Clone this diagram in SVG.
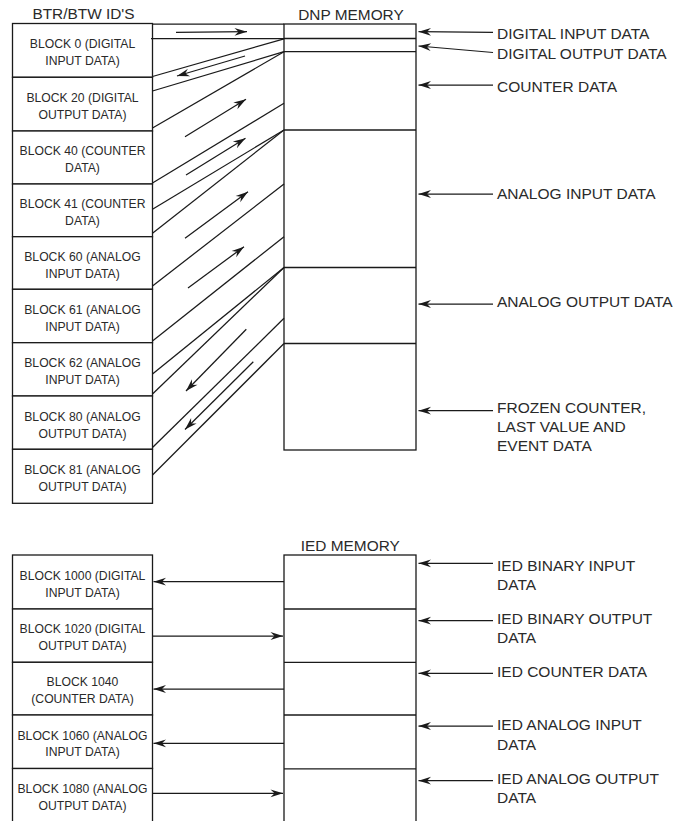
<svg xmlns="http://www.w3.org/2000/svg" width="678" height="821" viewBox="0 0 678 821">
<style>
  .box { fill: #fff; stroke: #1a1a1a; stroke-width: 1.3; }
  .div { stroke: #1a1a1a; stroke-width: 1.3; fill: none; }
  .ln { stroke: #1a1a1a; stroke-width: 1.25; fill: none; }
  .arr { stroke: #1a1a1a; stroke-width: 1.25; fill: none; marker-end: url(#ah); }
  .hdr { font-family: "Liberation Sans", Arial, sans-serif; font-size: 15.4px; fill: #2a2a2a; text-anchor: middle; }
  .blk { font-family: "Liberation Sans", Arial, sans-serif; font-size: 12.2px; fill: #2a2a2a; text-anchor: middle; }
  .lbl { font-family: "Liberation Sans", Arial, sans-serif; font-size: 15.5px; fill: #2a2a2a; }
</style>
<defs>
  <marker id="ah" viewBox="-13 -5 14 10" refX="0" refY="0" markerWidth="14" markerHeight="10" orient="auto" markerUnits="userSpaceOnUse">
    <path d="M0,0 L-12.5,-3.9 L-8.5,0 L-12.5,3.9 Z" fill="#1a1a1a"/>
  </marker>
</defs>
<rect width="678" height="821" fill="#fff"/>

<!-- headers -->
<text class="hdr" x="83.5" y="19.3">BTR/BTW ID'S</text>
<text class="hdr" x="351" y="19.5">DNP MEMORY</text>
<text class="hdr" x="350.3" y="550.7">IED MEMORY</text>

<!-- left blocks (upper) -->
<g id="block0"><rect class="box" x="12.5" y="23.5" width="140" height="53.8"/><text class="blk" x="82.5" y="48"><tspan>BLOCK 0 (DIGITAL</tspan><tspan x="82.5" y="65.4">INPUT DATA)</tspan></text></g>
<g id="block20"><rect class="box" x="12.5" y="77.3" width="140" height="53.7"/><text class="blk" x="82.5" y="101.7"><tspan>BLOCK 20 (DIGITAL</tspan><tspan x="82.5" y="119">OUTPUT DATA)</tspan></text></g>
<g id="block40"><rect class="box" x="12.5" y="131" width="140" height="53"/><text class="blk" x="82.5" y="154.5"><tspan>BLOCK 40 (COUNTER</tspan><tspan x="82.5" y="171.5">DATA)</tspan></text></g>
<g id="block41"><rect class="box" x="12.5" y="184" width="140" height="52.7"/><text class="blk" x="82.5" y="207.5"><tspan>BLOCK 41 (COUNTER</tspan><tspan x="82.5" y="224.5">DATA)</tspan></text></g>
<g id="block60"><rect class="box" x="12.5" y="236.7" width="140" height="52.6"/><text class="blk" x="82.5" y="260.7"><tspan>BLOCK 60 (ANALOG</tspan><tspan x="82.5" y="277.5">INPUT DATA)</tspan></text></g>
<g id="block61"><rect class="box" x="12.5" y="289.3" width="140" height="53.4"/><text class="blk" x="82.5" y="314"><tspan>BLOCK 61 (ANALOG</tspan><tspan x="82.5" y="330.8">INPUT DATA)</tspan></text></g>
<g id="block62"><rect class="box" x="12.5" y="342.7" width="140" height="53.3"/><text class="blk" x="82.5" y="367.3"><tspan>BLOCK 62 (ANALOG</tspan><tspan x="82.5" y="383.6">INPUT DATA)</tspan></text></g>
<g id="block80"><rect class="box" x="12.5" y="396" width="140" height="53.3"/><text class="blk" x="82.5" y="420.6"><tspan>BLOCK 80 (ANALOG</tspan><tspan x="82.5" y="437.5">OUTPUT DATA)</tspan></text></g>
<g id="block81"><rect class="box" x="12.5" y="449.3" width="140" height="54"/><text class="blk" x="82.5" y="474"><tspan>BLOCK 81 (ANALOG</tspan><tspan x="82.5" y="491">OUTPUT DATA)</tspan></text></g>

<!-- DNP memory -->
<g id="dnp-memory">
  <rect class="box" x="284" y="24" width="132" height="426"/>
  <line class="div" x1="284" y1="38.5" x2="416" y2="38.5"/>
  <line class="div" x1="284" y1="51.7" x2="416" y2="51.7"/>
  <line class="div" x1="284" y1="130" x2="416" y2="130"/>
  <line class="div" x1="284" y1="267.5" x2="416" y2="267.5"/>
  <line class="div" x1="284" y1="343.5" x2="416" y2="343.5"/>
</g>

<!-- IED blocks -->
<g id="block1000"><rect class="box" x="12.5" y="555" width="140" height="54"/><text class="blk" x="82.5" y="579.5"><tspan>BLOCK 1000 (DIGITAL</tspan><tspan x="82.5" y="596.8">INPUT DATA)</tspan></text></g>
<g id="block1020"><rect class="box" x="12.5" y="609" width="140" height="53.3"/><text class="blk" x="82.5" y="633.3"><tspan>BLOCK 1020 (DIGITAL</tspan><tspan x="82.5" y="649.5">OUTPUT DATA)</tspan></text></g>
<g id="block1040"><rect class="box" x="12.5" y="662.3" width="140" height="52.7"/><text class="blk" x="82.5" y="686"><tspan>BLOCK 1040</tspan><tspan x="82.5" y="702.6">(COUNTER DATA)</tspan></text></g>
<g id="block1060"><rect class="box" x="12.5" y="715" width="140" height="53.5"/><text class="blk" x="82.5" y="740"><tspan>BLOCK 1060 (ANALOG</tspan><tspan x="82.5" y="756.3">INPUT DATA)</tspan></text></g>
<g id="block1080"><rect class="box" x="12.5" y="768.5" width="140" height="60"/><text class="blk" x="82.5" y="793.3"><tspan>BLOCK 1080 (ANALOG</tspan><tspan x="82.5" y="809.5">OUTPUT DATA)</tspan></text></g>

<!-- IED memory -->
<g id="ied-memory">
  <rect class="box" x="284" y="555" width="132" height="280"/>
  <line class="div" x1="284" y1="609" x2="416" y2="609"/>
  <line class="div" x1="284" y1="662.3" x2="416" y2="662.3"/>
  <line class="div" x1="284" y1="715" x2="416" y2="715"/>
  <line class="div" x1="284" y1="768.8" x2="416" y2="768.8"/>
</g>

<!-- right side labels -->
<g id="labels">
  <text class="lbl" x="497" y="39">DIGITAL INPUT DATA</text>
  <text class="lbl" x="497" y="58.5">DIGITAL OUTPUT DATA</text>
  <text class="lbl" x="497" y="92">COUNTER DATA</text>
  <text class="lbl" x="497" y="199.3">ANALOG INPUT DATA</text>
  <text class="lbl" x="497" y="306.6">ANALOG OUTPUT DATA</text>
  <text class="lbl" x="497" y="413.4">FROZEN COUNTER,<tspan x="497" y="432">LAST VALUE AND</tspan><tspan x="497" y="451">EVENT DATA</tspan></text>
  <text class="lbl" x="497" y="570.7">IED BINARY INPUT<tspan x="497" y="590">DATA</tspan></text>
  <text class="lbl" x="497" y="624">IED BINARY OUTPUT<tspan x="497" y="643.3">DATA</tspan></text>
  <text class="lbl" x="497" y="677.3">IED COUNTER DATA</text>
  <text class="lbl" x="497" y="730">IED ANALOG INPUT<tspan x="497" y="750">DATA</tspan></text>
  <text class="lbl" x="497" y="784">IED ANALOG OUTPUT<tspan x="497" y="803.3">DATA</tspan></text>
</g>

<!-- connectors -->
<g id="connectors">
  <line class="ln" x1="152.5" y1="24" x2="284" y2="24"/>
  <line class="ln" x1="151" y1="38.5" x2="284" y2="38.5"/>
  <line class="ln" x1="152.5" y1="76.5" x2="284" y2="38.8"/>
  <line class="ln" x1="152.5" y1="91" x2="284" y2="51.7"/>
  <line class="ln" x1="152.5" y1="128" x2="284" y2="51.7"/>
  <line class="ln" x1="152.5" y1="183" x2="284" y2="103.3"/>
  <line class="ln" x1="152.5" y1="209.3" x2="284" y2="130"/>
  <line class="ln" x1="152.5" y1="233.3" x2="284" y2="130"/>
  <line class="ln" x1="152.5" y1="286" x2="284" y2="184"/>
  <line class="ln" x1="152.5" y1="341" x2="284" y2="236.7"/>
  <line class="ln" x1="152.5" y1="374" x2="284" y2="267.5"/>
  <line class="ln" x1="152.5" y1="394" x2="284" y2="267.5"/>
  <line class="ln" x1="152.5" y1="447.5" x2="284" y2="318.3"/>
  <line class="ln" x1="152.5" y1="475" x2="284" y2="343.5"/>

  <line class="arr" x1="176" y1="32.3" x2="247" y2="31.7"/>
  <line class="arr" x1="245" y1="56" x2="177" y2="76"/>
  <line class="arr" x1="185" y1="136.7" x2="246" y2="99.3"/>
  <line class="arr" x1="186" y1="175" x2="245.5" y2="138.3"/>
  <line class="arr" x1="185" y1="238.3" x2="248" y2="191.7"/>
  <line class="arr" x1="188" y1="288" x2="244" y2="246.7"/>
  <line class="arr" x1="246.3" y1="329.3" x2="186" y2="391"/>
  <line class="arr" x1="253.3" y1="361.7" x2="185" y2="429.5"/>

  <line class="arr" x1="493" y1="32.3" x2="418.5" y2="31.7"/>
  <line class="arr" x1="493" y1="52.5" x2="418.5" y2="46"/>
  <line class="arr" x1="493" y1="85" x2="418.5" y2="85"/>
  <line class="arr" x1="493" y1="194" x2="418.5" y2="194"/>
  <line class="arr" x1="493" y1="304" x2="418.5" y2="304"/>
  <line class="arr" x1="493" y1="410.7" x2="418.5" y2="410.7"/>

  <line class="arr" x1="284" y1="581.7" x2="153.5" y2="581.7"/>
  <line class="arr" x1="152.5" y1="636" x2="283" y2="636"/>
  <line class="arr" x1="284" y1="689" x2="153.5" y2="689"/>
  <line class="arr" x1="284" y1="743.3" x2="153.5" y2="743.3"/>
  <line class="arr" x1="152.5" y1="793.3" x2="283" y2="793.3"/>

  <line class="arr" x1="493" y1="563.3" x2="418.5" y2="563.3"/>
  <line class="arr" x1="493" y1="620.7" x2="418.5" y2="620.7"/>
  <line class="arr" x1="493" y1="673.3" x2="418.5" y2="673.3"/>
  <line class="arr" x1="493" y1="726" x2="418.5" y2="726"/>
  <line class="arr" x1="493" y1="780.7" x2="418.5" y2="780.7"/>
</g>
</svg>
